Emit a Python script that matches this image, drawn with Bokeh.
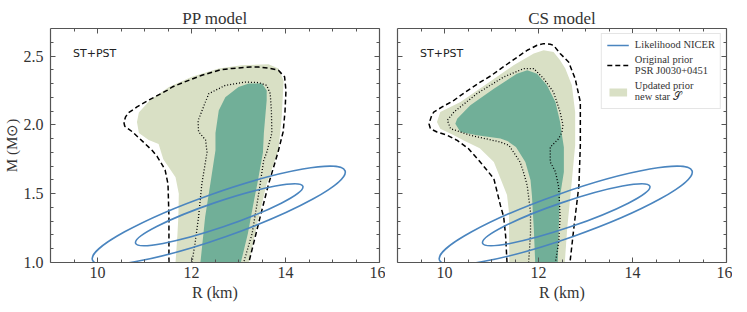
import numpy as np
from bokeh.plotting import figure
from bokeh.layouts import row, column
from bokeh.models import Range1d, FixedTicker, LinearAxis, Label, Legend, LegendItem, Spacer
from bokeh.embed import file_html
from bokeh.resources import INLINE

# ---------------- data ----------------
x_ticks = [10, 12, 14, 16]
x_tick_labels = ["10", "12", "14", "16"]
y_ticks = [1.0, 1.5, 2.0, 2.5]
y_tick_labels = ["1.0", "1.5", "2.0", "2.5"]
x_minor = [9.5, 10.5, 11, 11.5, 12.5, 13, 13.5, 14.5, 15, 15.5]
y_minor = [1.1, 1.2, 1.3, 1.4, 1.6, 1.7, 1.8, 1.9, 2.1, 2.2, 2.3, 2.4, 2.6]

panel_titles = ["PP model", "CS model"]
panel_tag = "ST+PST"
legend_labels = ["Likelihood NICER", "Original prior\nPSR J0030+0451", "Updated prior\nnew star \U0001D4AE"]

# NICER likelihood ellipses (outer, inner)
nicer_r = [12.58, 12.59]
nicer_m = [1.342, 1.347]
nicer_w = [5.70, 3.76]
nicer_h = [0.324, 0.186]
nicer_angle = [0.339, 0.328]

# PP model contours
pp_light_r = [11.66, 11.70, 11.72, 11.73, 11.66, 11.52, 11.40, 11.30, 11.09, 10.88, 10.84, 10.88, 11.12, 11.52,
              12.01, 12.58, 13.07, 13.64, 13.85, 13.96, 13.92, 13.85, 13.60, 13.43, 13.22]
pp_light_m = [1.0, 1.20, 1.33, 1.50, 1.62, 1.69, 1.75, 1.86, 1.89, 1.94, 2.02, 2.09, 2.18, 2.275,
              2.35, 2.41, 2.433, 2.44, 2.41, 2.32, 2.06, 1.815, 1.57, 1.33, 1.0]
pp_dark_r = [12.19, 12.29, 12.40, 12.51, 12.51, 12.58, 12.72, 13.0, 13.22, 13.50, 13.60, 13.60, 13.54,
             13.52, 13.40, 13.33, 13.20, 13.05]
pp_dark_m = [1.0, 1.33, 1.57, 1.815, 1.94, 2.105, 2.20, 2.275, 2.30, 2.30, 2.25, 2.18, 1.94,
             1.80, 1.57, 1.45, 1.21, 1.0]
pp_dash_r = [11.52, 11.52, 11.50, 11.44, 11.41, 11.27, 11.16, 10.96, 10.74, 10.58, 10.56, 10.60, 10.67,
             10.84, 11.09, 11.48, 11.59, 11.84, 12.22, 12.62, 12.86, 13.25, 13.43, 13.68, 13.85, 13.92,
             13.98, 14.01, 13.99, 13.95, 13.84, 13.64, 13.46, 13.22]
pp_dash_m = [1.0, 1.33, 1.57, 1.67, 1.69, 1.77, 1.815, 1.88, 1.95, 1.99, 2.02, 2.06, 2.09,
             2.13, 2.18, 2.25, 2.275, 2.31, 2.36, 2.40, 2.41, 2.42, 2.42, 2.41, 2.396, 2.37,
             2.35, 2.25, 2.10, 1.95, 1.80, 1.57, 1.33, 1.0]
pp_dot_r = [12.01, 12.08, 12.15, 12.22, 12.33, 12.30, 12.15, 12.14, 12.22, 12.30, 12.37, 12.72, 13.14,
            13.43, 13.60, 13.675, 13.70, 13.71, 13.60, 13.535, 13.43, 13.29, 13.11]
pp_dot_m = [1.0, 1.15, 1.33, 1.57, 1.80, 1.89, 1.95, 2.03, 2.10, 2.17, 2.227, 2.287, 2.311,
            2.307, 2.287, 2.227, 2.10, 1.94, 1.80, 1.74, 1.50, 1.21, 1.0]

# CS model contours
cs_light_r = [11.38, 11.37, 11.33, 11.19, 11.05, 10.75, 10.41, 10.20, 9.91, 9.84, 9.91, 10.34, 10.91, 11.47,
              11.90, 12.11, 12.32, 12.46, 12.57, 12.71, 12.78, 12.78, 12.68, 12.61, 12.56]
cs_light_m = [1.0, 1.37, 1.49, 1.61, 1.73, 1.83, 1.887, 1.924, 1.972, 2.02, 2.093, 2.166, 2.30, 2.433,
              2.518, 2.542, 2.53, 2.469, 2.409, 2.287, 2.093, 1.85, 1.487, 1.245, 1.0]
cs_dark_r = [11.93, 11.90, 11.86, 11.83, 11.72, 11.52, 11.35, 11.19, 10.69, 10.34, 10.23, 10.27, 10.55, 11.05,
             11.54, 11.76, 11.97, 12.18, 12.36, 12.46, 12.50, 12.54, 12.54, 12.46, 12.43, 12.41]
cs_dark_m = [1.0, 1.245, 1.487, 1.60, 1.73, 1.84, 1.88, 1.90, 1.924, 1.948, 2.008, 2.045, 2.142, 2.263,
             2.372, 2.396, 2.372, 2.287, 2.166, 2.02, 1.924, 1.838, 1.657, 1.487, 1.245, 1.0]
cs_dash_r = [11.33, 11.30, 11.26, 11.19, 11.05, 10.76, 10.50, 10.27, 10.06, 9.84, 9.70, 9.67, 9.72, 9.77,
             9.95, 10.20, 10.45, 10.76, 10.98, 11.40, 11.76, 11.97, 12.11, 12.25, 12.32, 12.46, 12.64,
             12.78, 12.89, 12.89, 12.89, 12.86, 12.75, 12.67]
cs_dash_m = [1.0, 1.196, 1.33, 1.415, 1.609, 1.73, 1.83, 1.887, 1.924, 1.948, 1.972, 2.008, 2.06, 2.093,
             2.13, 2.178, 2.24, 2.31, 2.355, 2.457, 2.542, 2.578, 2.59, 2.585, 2.578, 2.518, 2.457,
             2.336, 2.166, 1.924, 1.851, 1.56, 1.245, 1.0]
cs_dot_r = [11.79, 11.83, 11.83, 11.76, 11.69, 11.61, 11.47, 11.37, 11.19, 10.55, 10.13, 10.06, 10.20, 10.69,
            11.26, 11.69, 11.90, 12.11, 12.32, 12.46, 12.52, 12.50, 12.43, 12.25, 12.25, 12.36, 12.43,
            12.46, 12.43, 12.36]
cs_dot_m = [1.0, 1.209, 1.366, 1.56, 1.645, 1.729, 1.802, 1.851, 1.875, 1.924, 1.972, 2.033, 2.093, 2.227,
            2.348, 2.409, 2.409, 2.336, 2.238, 2.093, 2.00, 1.948, 1.90, 1.838, 1.73, 1.66, 1.548,
            1.33, 1.15, 1.0]

# ---------------- styles ----------------
LIGHT = "#d9e0c5"
DARK = "#71af98"
BLUE = "#4a85bf"
AXC = "#555555"
SERIF = "Liberation Serif"


def style_axis(ax, ticks, minor, labels, show_labels):
    ax.ticker = FixedTicker(ticks=ticks, minor_ticks=minor)
    ax.major_tick_in = 5
    ax.major_tick_out = 0
    ax.minor_tick_in = 3
    ax.minor_tick_out = 0
    ax.axis_line_color = AXC
    ax.axis_line_width = 1.2
    ax.major_tick_line_color = AXC
    ax.minor_tick_line_color = AXC
    ax.major_label_text_font = SERIF
    if show_labels:
        ax.major_label_overrides = {t: l for t, l in zip(ticks, labels)}
        ax.major_label_text_font_size = "16px"
        ax.major_label_text_color = "#333333"
    else:
        ax.major_label_text_color = None
        ax.major_label_standoff = 0


def make_panel(title, light, dark, dash, dot, first, with_legend):
    p = figure(frame_width=329, frame_height=234,
               x_range=Range1d(9, 16), y_range=Range1d(1.0, 2.7),
               output_backend="svg", toolbar_location=None,
               min_border_left=46 if first else 12, min_border_right=6,
               min_border_top=20, min_border_bottom=0)
    p.outline_line_color = None
    p.xgrid.visible = False
    p.ygrid.visible = False
    p.title.text = title
    p.title.align = "center"
    p.title.text_font = SERIF
    p.title.text_font_size = "17px"
    p.title.text_font_style = "normal"
    p.title.text_color = "#333333"
    p.title.standoff = 2

    style_axis(p.xaxis[0], x_ticks, x_minor, x_tick_labels, True)
    p.xaxis.major_label_standoff = 4
    p.xaxis.axis_label = "R (km)"
    p.xaxis.axis_label_text_font = SERIF
    p.xaxis.axis_label_text_font_size = "16px"
    p.xaxis.axis_label_text_font_style = "normal"
    p.xaxis.axis_label_text_color = "#333333"
    p.xaxis.axis_label_standoff = 3

    style_axis(p.yaxis[0], y_ticks, y_minor, y_tick_labels, first)
    if first:
        p.yaxis.major_label_standoff = 7
        p.yaxis.axis_label = "M (M\u2299)"
        p.yaxis.axis_label_text_font = SERIF
        p.yaxis.axis_label_text_font_size = "15px"
        p.yaxis.axis_label_text_font_style = "normal"
        p.yaxis.axis_label_text_color = "#333333"
        p.yaxis.axis_label_standoff = 1

    top = LinearAxis()
    style_axis(top, x_ticks, x_minor, x_tick_labels, False)
    p.add_layout(top, "above")
    right = LinearAxis()
    style_axis(right, y_ticks, y_minor, y_tick_labels, False)
    p.add_layout(right, "right")

    r_light = p.patch(light[0], light[1], fill_color=LIGHT, line_color=None)
    p.patch(dark[0], dark[1], fill_color=DARK, line_color=None)
    r_dash = p.line(dash[0], dash[1], line_color="black", line_width=1.5, line_dash="5 3")
    p.line(dot[0], dot[1], line_color="black", line_width=1.3, line_dash="1 2")
    p.ellipse(x=nicer_r, y=nicer_m, width=nicer_w, height=nicer_h, angle=nicer_angle,
              fill_color=None, line_color=BLUE, line_width=1.6)

    p.add_layout(Label(x=9.48, y=2.52, text=panel_tag, text_font="DejaVu Sans",
                       text_font_size="11px", text_baseline="middle", text_color="#222222"))

    if with_legend:
        r_blue = p.line([np.nan], [np.nan], line_color=BLUE, line_width=1.6)
        leg = Legend(items=[LegendItem(label=legend_labels[0], renderers=[r_blue]),
                            LegendItem(label=legend_labels[1], renderers=[r_dash]),
                            LegendItem(label=legend_labels[2], renderers=[r_light])],
                     location="top_right")
        leg.label_text_font = SERIF
        leg.label_text_font_size = "10.5px"
        leg.label_text_color = "#333333"
        leg.label_height = 10
        leg.glyph_width = 22
        leg.glyph_height = 10
        leg.spacing = 4
        leg.padding = 5
        leg.margin = 5
        leg.label_standoff = 6
        leg.border_line_color = "#cccccc"
        leg.border_line_width = 1
        p.add_layout(leg)
    return p


p1 = make_panel(panel_titles[0], (pp_light_r, pp_light_m), (pp_dark_r, pp_dark_m),
                (pp_dash_r, pp_dash_m), (pp_dot_r, pp_dot_m), True, False)
p2 = make_panel(panel_titles[1], (cs_light_r, cs_light_m), (cs_dark_r, cs_dark_m),
                (cs_dash_r, cs_dash_m), (cs_dot_r, cs_dot_m), False, True)

layout = column(Spacer(height=5), row(p1, p2))
open("out.html", "w").write(file_html(layout, INLINE))
